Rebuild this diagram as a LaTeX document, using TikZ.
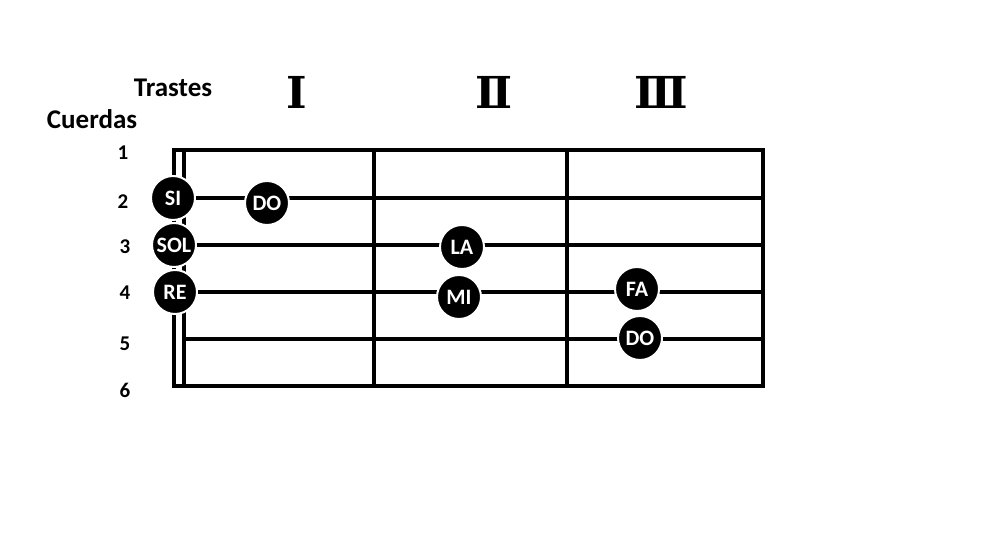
\documentclass[tikz,border=0pt]{standalone}
\usepackage{fontspec}
\setmainfont{Carlito}
\newfontfamily\numeralfont{DejaVu Serif}
\usetikzlibrary{positioning}

\begin{document}
\begin{tikzpicture}[
    x=0.5pt, y=-0.5pt,
    line width=2pt,
    note/.style={circle, fill=black, draw=white, line width=1pt, minimum size=22pt, inner sep=0pt, text=white, font=\bfseries\fontsize{11}{11}\selectfont},
    stringnum/.style={font=\bfseries\fontsize{10.5}{12}\selectfont},
    heading/.style={font=\bfseries\fontsize{13.5}{15}\selectfont},
    fretnum/.style={font=\numeralfont\bfseries\fontsize{22}{22}\selectfont}
]
\useasboundingbox (0,0) rectangle (1000,533);

% Headings
\node[heading] (trastes) at (173,88) {Trastes};
\node[heading] (cuerdas) at (92,119) {Cuerdas};

% Frets
\node[fretnum] (fretI) at (297,92) {Ⅰ};
\node[fretnum] (fretII) at (494,92) {Ⅱ};
\node[fretnum] (fretIII) at (661,92) {Ⅲ};

% String numbers
\node[stringnum] (s1) at (123,153) {1};
\node[stringnum] (s2) at (123,202) {2};
\node[stringnum] (s3) at (125,247) {3};
\node[stringnum] (s4) at (125,293) {4};
\node[stringnum] (s5) at (125,344) {5};
\node[stringnum] (s6) at (125,390) {6};

% Neck corners and string ends
\coordinate (topleft) at (174,150);
\coordinate (topright) at (763,150);
\coordinate (botleft) at (174,386);
\coordinate (botright) at (763,386);
\coordinate (nuttop) at (184,150);
\coordinate (nutbot) at (184,386);
\coordinate (end2) at (763,198);
\coordinate (end3) at (763,245);
\coordinate (end4) at (763,292);
\coordinate (start5) at (184,339);
\coordinate (end5) at (763,339);
\coordinate (fretItop) at (374,150);
\coordinate (fretIbot) at (374,386);
\coordinate (fretIItop) at (567,150);
\coordinate (fretIIbot) at (567,386);

% Neck
\draw (topleft) -- (topright) -- (botright) -- (botleft) -- cycle;
\draw (nuttop) -- (nutbot);
\draw (fretItop) -- (fretIbot);
\draw (fretIItop) -- (fretIIbot);
\draw (start5) -- (end5);

% Open strings
\node[note] (si) at (173,198) {SI};
\node[note] (sol) at (174,245) {SOL};
\node[note] (re) at (175,292) {RE};

% Strings
\draw (si) -- (end2);
\draw (sol) -- (end3);
\draw (re) -- (end4);

% Fretted notes
\node[note] (do2) at (267,203) {DO};
\node[note] (la) at (462,247) {LA};
\node[note] (mi) at (459,297) {MI};
\node[note] (fa) at (637,289) {FA};
\node[note] (do5) at (640,338) {DO};
\end{tikzpicture}
\end{document}
